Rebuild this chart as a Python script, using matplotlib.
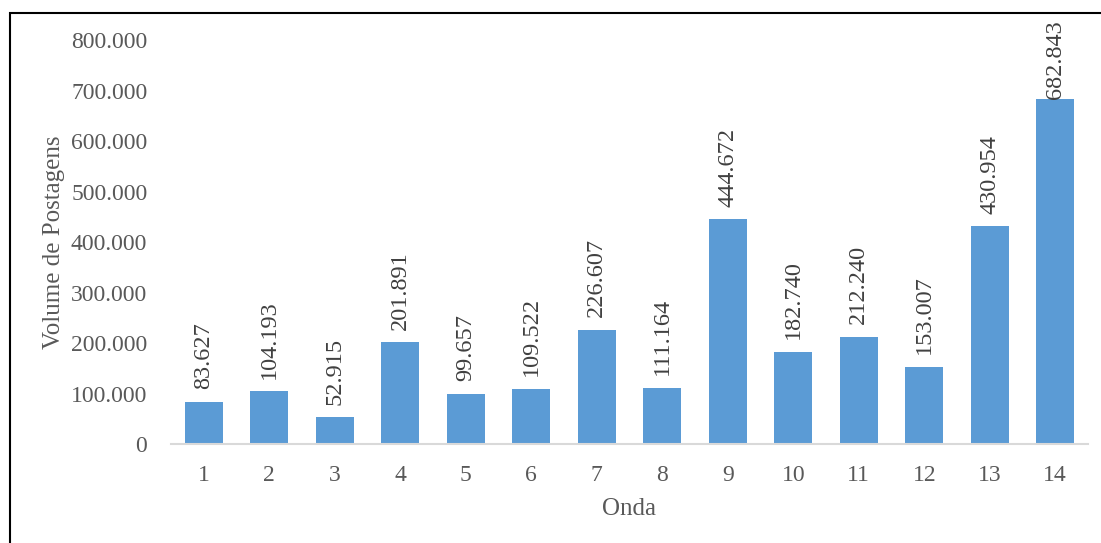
import matplotlib.pyplot as plt
from matplotlib.patches import Rectangle

ondas = [str(i) for i in range(1, 15)]
volumes = [83627, 104193, 52915, 201891, 99657, 109522, 226607,
           111164, 444672, 182740, 212240, 153007, 430954, 682843]
yticks = [0, 100000, 200000, 300000, 400000, 500000, 600000, 700000, 800000]
ytick_labels = ['0', '100.000', '200.000', '300.000', '400.000',
                '500.000', '600.000', '700.000', '800.000']

serif = 'Liberation Serif'
grey = '#595959'

fig = plt.figure(figsize=(11.01, 5.43), dpi=100)
ax = fig.add_axes([0.1553, 0.1823, 0.8329, 0.744])

x = range(len(ondas))
bars = ax.bar(x, volumes, width=0.58, color='#5B9BD5')

labels = []
for xi, v in zip(x, volumes):
    label = f'{v:,}'.replace(',', '.')
    t = ax.annotate(label, (xi, v), xytext=(0, 9), textcoords='offset points',
                    rotation=90, ha='center', va='bottom',
                    fontsize=17.5, family=serif, color='#404040')
    labels.append(t)

ax.set_xlim(-0.5, len(ondas) - 0.5)
ax.set_ylim(0, 800000)
ax.set_xticks(list(x))
ax.set_xticklabels(ondas, family=serif, fontsize=17, color=grey)
ax.set_yticks(yticks)
ax.set_yticklabels(ytick_labels, family=serif, fontsize=17, color=grey)
ax.tick_params(axis='both', length=0)
ax.tick_params(axis='x', pad=15)
ax.tick_params(axis='y', pad=17)

for side in ['top', 'right', 'left']:
    ax.spines[side].set_visible(False)
ax.spines['bottom'].set_color('#D9D9D9')
ax.spines['bottom'].set_linewidth(1.5)

ax.set_xlabel('Onda', family=serif, fontsize=18, color=grey, labelpad=9)
ax.set_ylabel('Volume de Postagens', family=serif, fontsize=18, color=grey,
              labelpad=4)

# black frame around the chart
fig.patches.append(Rectangle((10 / 1101, -0.1), 1.2, 1 - 13 / 543 + 0.1,
                             transform=fig.transFigure, fill=False,
                             edgecolor='black', linewidth=1.5))

# keep labels inside the chart area, like the spreadsheet does
fig.canvas.draw()
limit = fig.bbox.height - 20
for t in labels:
    bb = t.get_window_extent()
    if bb.y1 > limit:
        t.xyann = (0, 9 - (bb.y1 - limit) * 72 / fig.dpi)

fig.savefig('out.png', dpi=100)
